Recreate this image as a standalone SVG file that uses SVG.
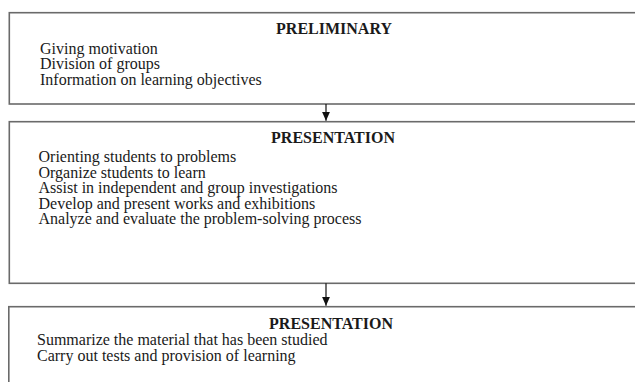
<svg xmlns="http://www.w3.org/2000/svg" width="635" height="382" viewBox="0 0 635 382">
<style>
.box{fill:#fff;stroke:#6a6a6a;stroke-width:1.6}
.h{font-family:"Liberation Serif","Times New Roman",serif;font-size:16px;font-weight:bold;fill:#1a1a1a;text-anchor:middle}
.t{font-family:"Liberation Serif","Times New Roman",serif;font-size:16px;fill:#1a1a1a}
.c{stroke:#111;stroke-width:1.2;fill:none}
</style>
<defs>
<marker id="ah" markerUnits="userSpaceOnUse" markerWidth="9" markerHeight="8" refX="9" refY="4" orient="auto" viewBox="0 0 9 8">
<path d="M0,0 L9,4 L0,8 Z" fill="#111"/>
</marker>
</defs>
<rect width="635" height="382" fill="#fff"/>
<g id="preliminary">
<rect class="box" x="9.3" y="12.7" width="640" height="91.3"/>
<text class="h" x="334" y="34">PRELIMINARY</text>
<text class="t" x="40" y="53.8">Giving motivation</text>
<text class="t" x="40" y="69.3">Division of groups</text>
<text class="t" x="40" y="84.8">Information on learning objectives</text>
</g>
<g id="presentation1">
<rect class="box" x="9.3" y="121.7" width="640" height="161.6"/>
<text class="h" x="333" y="143.3">PRESENTATION</text>
<text class="t" x="38.5" y="162.4">Orienting students to problems</text>
<text class="t" x="38.5" y="177.9">Organize students to learn</text>
<text class="t" x="38.5" y="193.4">Assist in independent and group investigations</text>
<text class="t" x="38.5" y="208.9">Develop and present works and exhibitions</text>
<text class="t" x="38.5" y="224.4">Analyze and evaluate the problem-solving process</text>
</g>
<g id="presentation2">
<rect class="box" x="8.8" y="306.7" width="640" height="100"/>
<text class="h" x="331" y="328.5">PRESENTATION</text>
<text class="t" x="37" y="345.2">Summarize the material that has been studied</text>
<text class="t" x="37" y="360.7">Carry out tests and provision of learning</text>
</g>
<g id="connectors">
<line class="c" x1="326" y1="104" x2="326" y2="120.8" marker-end="url(#ah)"/>
<line class="c" x1="326" y1="283.3" x2="326" y2="305.8" marker-end="url(#ah)"/>
</g>
</svg>
